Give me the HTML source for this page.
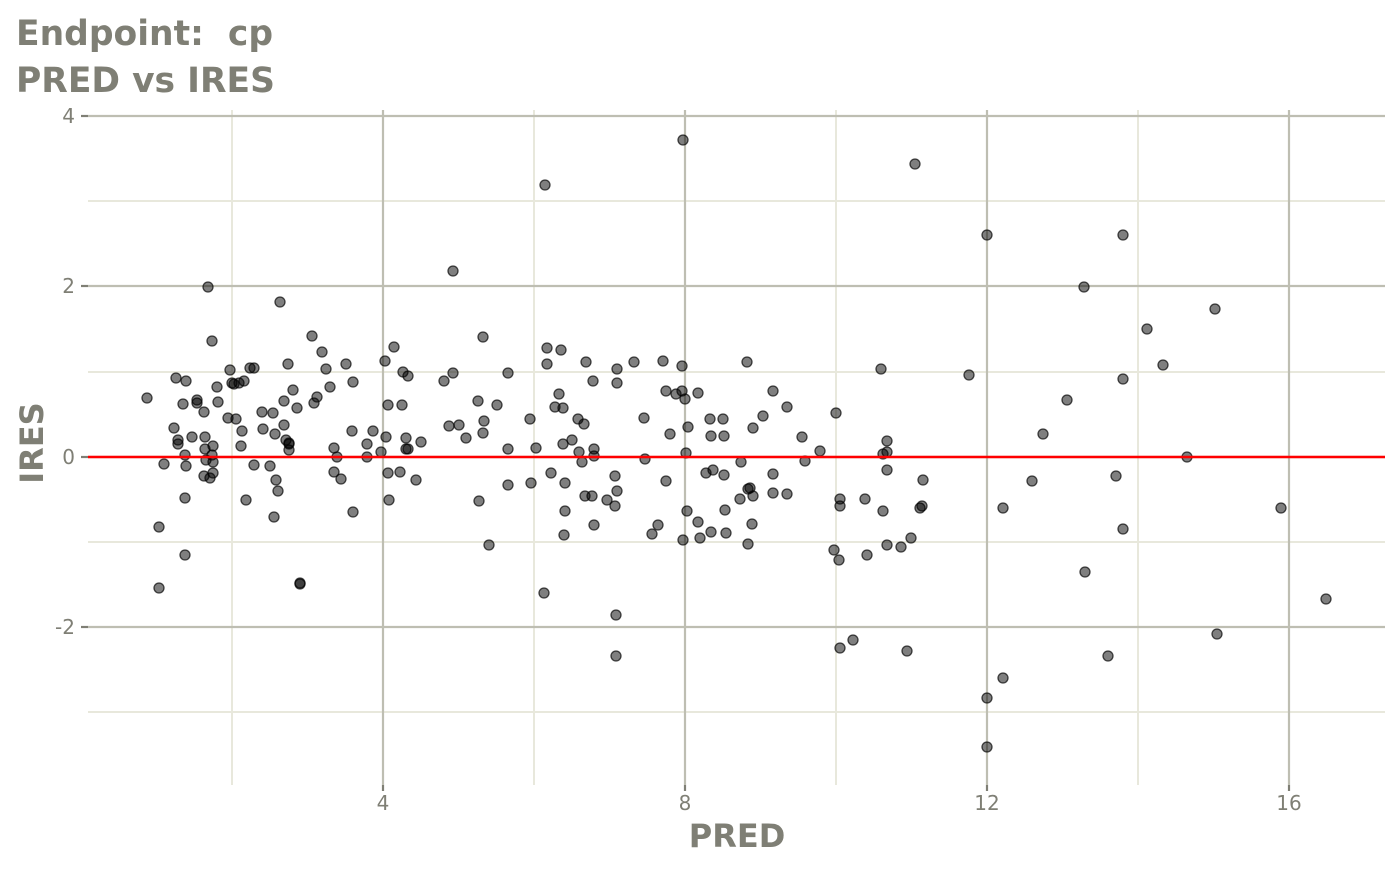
<!DOCTYPE html>
<html><head><meta charset="utf-8"><style>
body{margin:0;background:#fff;width:1400px;height:865px;overflow:hidden}
svg text{font-family:"DejaVu Sans","Liberation Sans",sans-serif}
</style></head><body>
<svg width="1400" height="865" xmlns="http://www.w3.org/2000/svg">
<g stroke="#e8e8dc" stroke-width="2">
<line x1="232" y1="110" x2="232" y2="785"/><line x1="534" y1="110" x2="534" y2="785"/>
<line x1="836" y1="110" x2="836" y2="785"/><line x1="1138" y1="110" x2="1138" y2="785"/>
<line x1="88" y1="201" x2="1385" y2="201"/><line x1="88" y1="372" x2="1385" y2="372"/>
<line x1="88" y1="542" x2="1385" y2="542"/><line x1="88" y1="712" x2="1385" y2="712"/>
</g>
<g stroke="#bebeb2" stroke-width="2.2">
<line x1="383" y1="110" x2="383" y2="785"/><line x1="685" y1="110" x2="685" y2="785"/>
<line x1="987" y1="110" x2="987" y2="785"/><line x1="1289" y1="110" x2="1289" y2="785"/>
<line x1="88" y1="116" x2="1385" y2="116"/><line x1="88" y1="286" x2="1385" y2="286"/>
<line x1="88" y1="457" x2="1385" y2="457"/><line x1="88" y1="627" x2="1385" y2="627"/>
</g>
<g stroke="#7f7f75" stroke-width="2.2">
<line x1="81" y1="116" x2="88" y2="116"/><line x1="81" y1="286" x2="88" y2="286"/>
<line x1="81" y1="457" x2="88" y2="457"/><line x1="81" y1="627" x2="88" y2="627"/>
<line x1="383" y1="785" x2="383" y2="791"/><line x1="685" y1="785" x2="685" y2="791"/>
<line x1="987" y1="785" x2="987" y2="791"/><line x1="1289" y1="785" x2="1289" y2="791"/>
</g>
<g fill="#7f7f75" font-size="20" text-anchor="end">
<text x="75" y="123">4</text><text x="75" y="293">2</text><text x="75" y="464">0</text><text x="75" y="634">-2</text>
</g>
<g fill="#7f7f75" font-size="20" text-anchor="middle">
<text x="383" y="810">4</text><text x="685" y="810">8</text><text x="987" y="810">12</text><text x="1289" y="810">16</text>
</g>
<g id="pts" fill="rgba(0,0,0,0.5)" stroke="rgba(0,0,0,0.7)" stroke-width="1.3"></g>
<line x1="88" y1="457" x2="1385" y2="457" stroke="#ff0000" stroke-width="2.4"/>
<g fill="#7f7f75" font-weight="bold">
<text x="16" y="45" font-size="34.5" xml:space="preserve">Endpoint:  cp</text>
<text x="16" y="92" font-size="34.5">PRED vs IRES</text>
<text x="737" y="847" font-size="32" text-anchor="middle">PRED</text>
<text transform="translate(43,443) rotate(-90)" font-size="32" text-anchor="middle">IRES</text>
</g>
</svg>
<script>
var p=[147,398,159,527,159,588,164,464,176,378,174,428,178,440,178,444,183,404,185,455,186,466,185,498,185,555,186,381,192,437,197,400,197,403,204,412,205,437,205,449,204,476,206,460,208,287,210,478,212,455,212,341,213,462,213,473,213,446,217,387,218,402,228,418,230,370,232,383,234,384,236,419,239,383,241,446,242,431,244,381,246,500,250,368,254,368,254,465,262,412,263,429,270,466,273,413,274,517,275,434,276,480,278,491,280,302,284,401,284,425,286,440,288,364,289,443,289,450,289,444,293,390,297,408,300,584,300,583,312,336,314,403,317,397,322,352,326,369,330,387,334,448,334,472,337,457,341,479,346,364,352,431,353,382,353,512,367,444,367,457,373,431,381,452,385,361,386,437,388,405,388,473,389,500,394,347,400,472,402,405,403,372,406,438,406,449,408,376,408,449,416,480,421,442,444,381,449,426,453,373,453,271,459,425,466,438,478,401,479,501,483,337,483,433,484,421,489,545,497,405,508,373,508,449,508,485,530,419,531,483,536,448,544,593,545,185,547,364,547,348,551,473,555,407,559,394,561,350,563,444,563,408,564,535,565,483,565,511,572,440,578,419,579,452,582,462,584,424,585,496,586,362,592,496,593,381,594,449,594,456,594,525,607,500,615,506,615,476,617,369,617,383,616,615,616,656,617,491,634,362,644,418,645,459,652,534,658,525,663,361,666,391,666,481,670,434,676,394,682,366,682,391,683,540,683,140,685,399,686,453,687,511,688,427,698,393,698,522,700,538,706,473,710,419,711,532,711,436,713,470,723,419,724,475,725,510,724,436,726,533,740,499,741,462,747,362,748,544,748,489,750,488,753,428,752,524,753,496,763,416,773,391,773,493,773,474,787,407,787,494,802,437,805,461,820,451,834,550,836,413,839,560,840,499,840,506,840,648,853,640,865,499,867,555,881,369,883,454,883,511,887,441,887,470,887,452,887,545,901,547,907,651,911,538,915,164,920,508,922,506,923,480,969,375,987,235,987,698,987,747,1003,508,1003,678,1032,481,1043,434,1067,400,1084,287,1085,572,1116,476,1123,235,1123,379,1123,529,1108,656,1147,329,1163,365,1187,457,1215,309,1217,634,1281,508,1326,599];
var g=document.getElementById('pts'),s='';
for(var i=0;i<p.length;i+=2)s+='<circle cx="'+p[i]+'" cy="'+p[i+1]+'" r="5"/>';
g.innerHTML=s;
</script>
</body></html>
